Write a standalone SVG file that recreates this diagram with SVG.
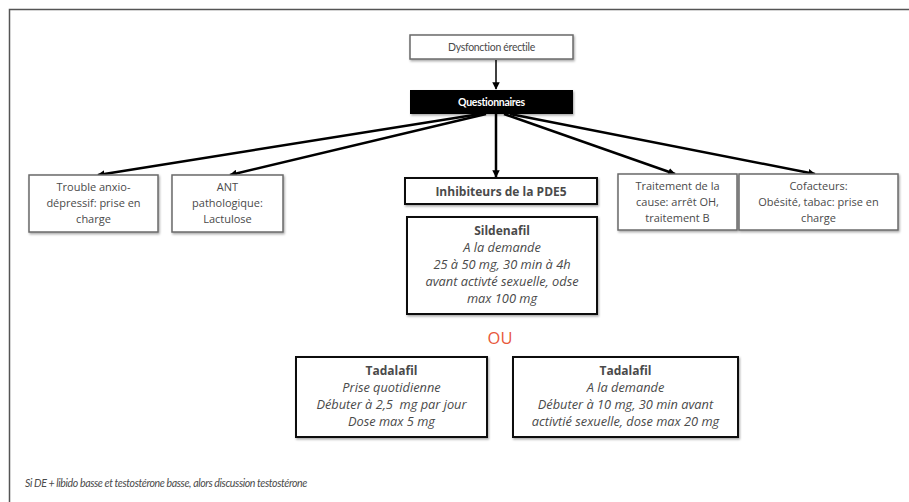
<svg xmlns="http://www.w3.org/2000/svg" width="909" height="502" viewBox="0 0 909 502">
<defs>
<marker id="ah" viewBox="0 0 10 10" refX="9" refY="5" markerWidth="3" markerHeight="3" orient="auto" markerUnits="strokeWidth">
<path d="M0,0 L10,5 L0,10 z" fill="#000"/>
</marker>
<marker id="ahs" viewBox="0 0 10 10" refX="9" refY="5" markerWidth="5" markerHeight="5" orient="auto" markerUnits="strokeWidth">
<path d="M0,0 L10,5 L0,10 z" fill="#000"/>
</marker>
<filter id="sh" x="-10%" y="-10%" width="120%" height="130%">
<feDropShadow dx="1" dy="1.5" stdDeviation="1" flood-color="#000" flood-opacity="0.35"/>
</filter>
</defs>
<style>
.t{font-family:"Open Sans",Lato,"Liberation Sans",sans-serif;fill:#4a4a4a;text-anchor:middle}
.s{font-size:11px}
.m{font-size:12px}
.b{font-weight:bold}
.i{font-style:italic;font-size:12.8px}
.thin{fill:#fff;stroke:#6a6a6a;stroke-width:1.5}
.thick{fill:#fff;stroke:#111;stroke-width:2}
.con{stroke:#000;stroke-width:2.5;fill:none;marker-end:url(#ah)}
</style>
<rect x="0" y="0" width="909" height="502" fill="#fff"/>
<path d="M9.5,520 L9.5,9.5 L920,9.5" fill="none" stroke="#555" stroke-width="1.5"/>

<g id="connectors">
<line x1="496" y1="60" x2="496" y2="89" stroke="#000" stroke-width="1.5" marker-end="url(#ahs)"/>
<line class="con" x1="480" y1="114" x2="98" y2="175"/>
<line class="con" x1="486" y1="114" x2="230" y2="175"/>
<line class="con" x1="496" y1="114" x2="496" y2="177"/>
<line class="con" x1="504" y1="114" x2="675" y2="174"/>
<line class="con" x1="510" y1="114" x2="815" y2="174"/>
</g>

<g id="n-dysfonction">
<rect class="thin" x="410" y="35" width="163" height="24" filter="url(#sh)"/>
<text x="491.5" y="51" font-family="Lato,'Open Sans',sans-serif" font-size="10.5" fill="#4a4a4a" text-anchor="middle" letter-spacing="-0.3">Dysfonction érectile</text>
</g>

<g id="n-questionnaires">
<rect x="410" y="90" width="163" height="24" fill="#000" filter="url(#sh)"/>
<text x="491.5" y="106" font-family="Lato,'Open Sans',sans-serif" font-size="10.5" font-weight="bold" fill="#fff" text-anchor="middle" letter-spacing="-0.3">Questionnaires</text>
</g>

<g id="n-trouble">
<rect class="thin" x="29" y="175" width="129" height="57" filter="url(#sh)"/>
<text class="t s" x="93.5" y="191">Trouble anxio-</text>
<text class="t s" x="93.5" y="207">dépressif: prise en</text>
<text class="t s" x="93.5" y="223">charge</text>
</g>

<g id="n-ant">
<rect class="thin" x="172" y="175" width="111" height="57" filter="url(#sh)"/>
<text class="t s" x="227.5" y="191">ANT</text>
<text class="t s" x="227.5" y="207">pathologique:</text>
<text class="t s" x="227.5" y="223">Lactulose</text>
</g>

<g id="n-inhibiteurs">
<rect class="thick" x="405" y="178" width="192" height="26" filter="url(#sh)"/>
<text class="t m b" x="501" y="195.5">Inhibiteurs de la PDE5</text>
</g>

<g id="n-sildenafil">
<rect class="thick" x="407" y="217" width="190" height="97" filter="url(#sh)"/>
<text class="t m b" x="502" y="235">Sildenafil</text>
<text class="t i" x="502" y="252">A la demande</text>
<text class="t i" x="502" y="269">25 à 50 mg, 30 min à 4h</text>
<text class="t i" x="502" y="286">avant activté sexuelle, odse</text>
<text class="t i" x="502" y="303">max 100 mg</text>
</g>

<g id="n-traitement">
<rect class="thin" x="618" y="174" width="119" height="56" filter="url(#sh)"/>
<text class="t s" x="677.5" y="190">Traitement de la</text>
<text class="t s" x="677.5" y="206">cause: arrêt OH,</text>
<text class="t s" x="677.5" y="222">traitement B</text>
</g>

<g id="n-cofacteurs">
<rect class="thin" x="739" y="174" width="159" height="56" filter="url(#sh)"/>
<text class="t s" x="818.5" y="190">Cofacteurs:</text>
<text class="t s" x="818.5" y="206">Obésité, tabac: prise en</text>
<text class="t s" x="818.5" y="222">charge</text>
</g>

<g id="n-ou">
<text x="500" y="344" font-family="'Open Sans',Lato,sans-serif" font-size="16.5" fill="#e8583a" text-anchor="middle">OU</text>
</g>

<g id="n-tadalafil1">
<rect class="thick" x="296" y="357" width="191" height="80" filter="url(#sh)"/>
<text class="t m b" x="391.5" y="375">Tadalafil</text>
<text class="t i" x="391.5" y="392">Prise quotidienne</text>
<text class="t i" x="391.5" y="409" xml:space="preserve">Débuter à 2,5  mg par jour</text>
<text class="t i" x="391.5" y="426">Dose max 5 mg</text>
</g>

<g id="n-tadalafil2">
<rect class="thick" x="513" y="357" width="225" height="80" filter="url(#sh)"/>
<text class="t m b" x="625.5" y="375">Tadalafil</text>
<text class="t i" x="625.5" y="392">A la demande</text>
<text class="t i" x="625.5" y="409">Débuter à 10 mg, 30 min avant</text>
<text class="t i" x="625.5" y="426">activtié sexuelle, dose max 20 mg</text>
</g>

<g id="n-note">
<text x="25" y="487" font-family="Lato,'Open Sans','Liberation Sans',sans-serif" font-size="10.6" font-style="italic" fill="#4a4a4a" letter-spacing="-0.4">Si DE + libido basse et testostérone basse, alors discussion testostérone</text>
</g>
</svg>
